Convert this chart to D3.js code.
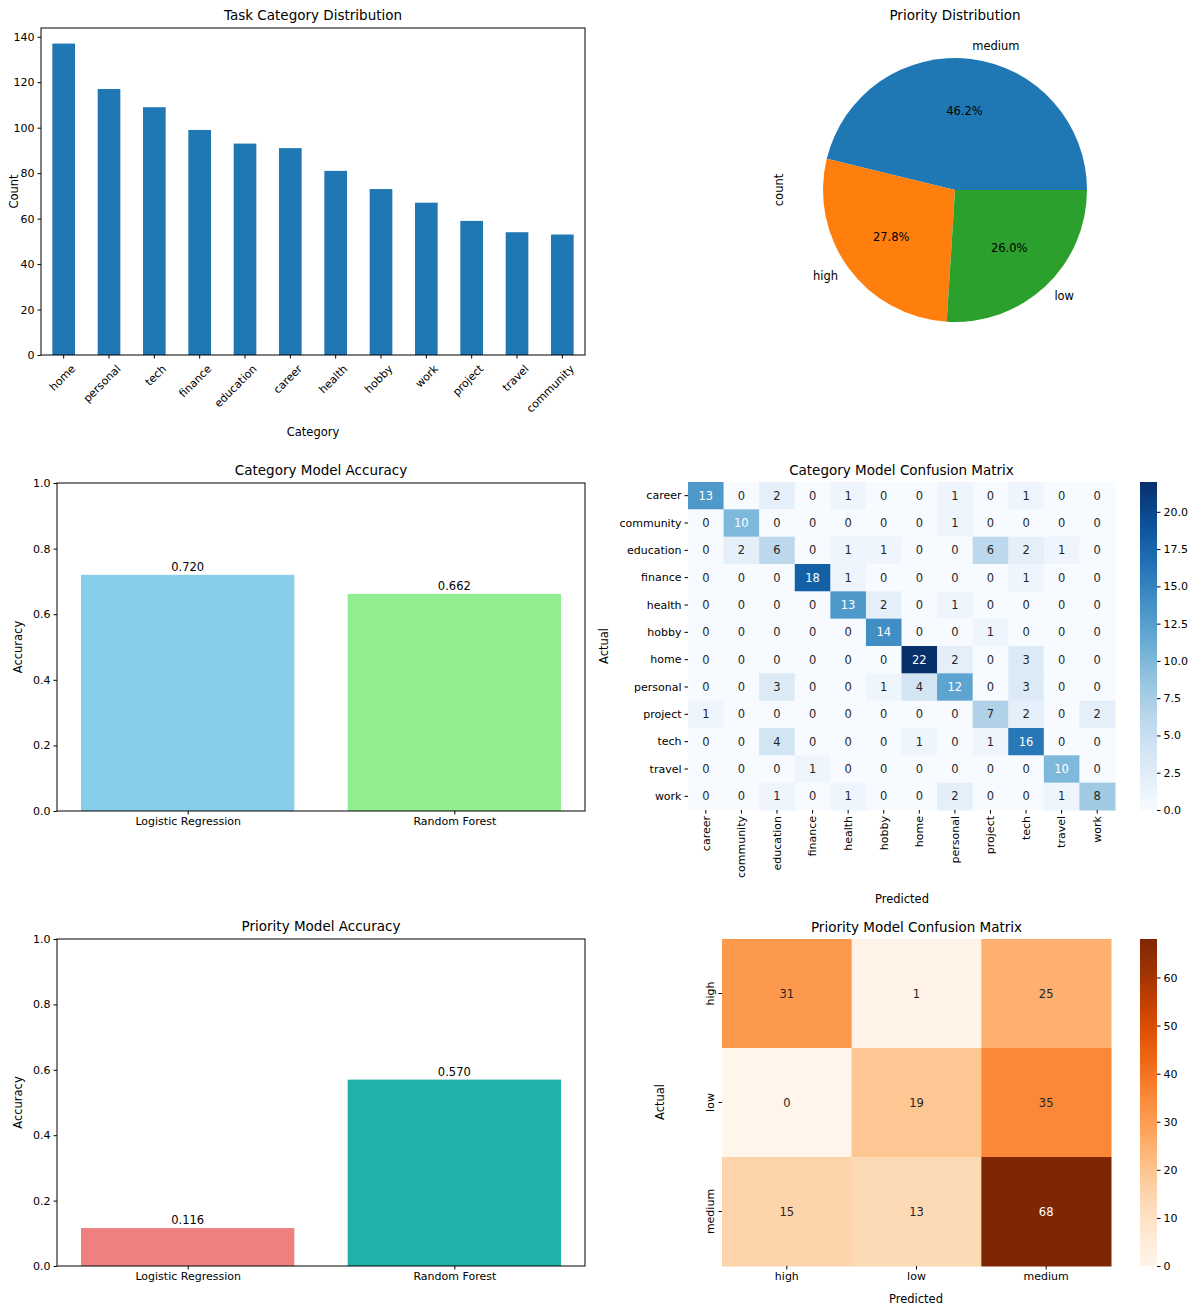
<!DOCTYPE html><html><head><meta charset="utf-8">
<script src="https://cdn.jsdelivr.net/npm/d3@7"></script>
<style>body{margin:0;background:#fff}text{font-family:"DejaVu Sans",sans-serif;fill:#000}</style></head><body>
<svg id="c" width="1200" height="1314"></svg>
<script>
const catNames=["home","personal","tech","finance","education","career","health","hobby","work","project","travel","community"];
const catCounts=[137,117,109,99,93,91,81,73,67,59,54,53];
const prioNames=["medium","high","low"];
const prioPcts=[46.2,27.8,26.0];
const prioColors=["#1f77b4","#ff7f0e","#2ca02c"];
const models=["Logistic Regression","Random Forest"];
const catAcc=[0.720,0.662];
const prioAcc=[0.116,0.570];
const cmLabels=["career","community","education","finance","health","hobby","home","personal","project","tech","travel","work"];
const cmCat=[
[13,0,2,0,1,0,0,1,0,1,0,0],
[0,10,0,0,0,0,0,1,0,0,0,0],
[0,2,6,0,1,1,0,0,6,2,1,0],
[0,0,0,18,1,0,0,0,0,1,0,0],
[0,0,0,0,13,2,0,1,0,0,0,0],
[0,0,0,0,0,14,0,0,1,0,0,0],
[0,0,0,0,0,0,22,2,0,3,0,0],
[0,0,3,0,0,1,4,12,0,3,0,0],
[1,0,0,0,0,0,0,0,7,2,0,2],
[0,0,4,0,0,0,1,0,1,16,0,0],
[0,0,0,1,0,0,0,0,0,0,10,0],
[0,0,1,0,1,0,0,2,0,0,1,8]];
const prioLabels=["high","low","medium"];
const cmPrio=[[31,1,25],[0,19,35],[15,13,68]];

const svg=d3.select("#c");
function title(x,y,t){svg.append("text").attr("x",x).attr("y",y).attr("text-anchor","middle").attr("font-size",13.5).text(t);}
function frame(x0,y0,x1,y1){svg.append("rect").attr("x",x0).attr("y",y0).attr("width",x1-x0).attr("height",y1-y0).attr("fill","none").attr("stroke","#000").attr("stroke-width",1);}
function styleAxis(g){g.selectAll("text").attr("font-size",11);g.select(".domain").remove();g.selectAll("line").attr("stroke","#000");}
function ylab(x,y,t){svg.append("text").attr("transform",`translate(${x},${y}) rotate(-90)`).attr("text-anchor","middle").attr("font-size",11.5).text(t);}

// Panel 1
{const x0=41,x1=585,y0=28,y1=355;
const x=d3.scaleBand().domain(catNames).range([x0,x1]).paddingInner(0.5).paddingOuter(0.25);
const y=d3.scaleLinear().domain([0,143.85]).range([y1,y0]);
svg.selectAll(".b1").data(catNames).join("rect").attr("x",d=>x(d)).attr("width",x.bandwidth()).attr("y",(d,i)=>y(catCounts[i])).attr("height",(d,i)=>y1-y(catCounts[i])).attr("fill","#1f77b4");
const gy=svg.append("g").attr("transform",`translate(${x0},0)`).call(d3.axisLeft(y).tickValues(d3.range(0,141,20)).tickSize(3.5).tickPadding(3));styleAxis(gy);
const gx=svg.append("g").attr("transform",`translate(0,${y1})`).call(d3.axisBottom(x).tickSize(3.5));styleAxis(gx);
gx.selectAll("text").attr("text-anchor","end").attr("transform","translate(4,6) rotate(-45)").attr("dy","0.5em");
frame(x0,y0,x1,y1);title((x0+x1)/2,20,"Task Category Distribution");ylab(18,(y0+y1)/2,"Count");
svg.append("text").attr("x",(x0+x1)/2).attr("y",436).attr("text-anchor","middle").attr("font-size",11.5).text("Category");}

// Panel 2 pie
{const cx=955,cy=190,r=132;
const g=svg.append("g").attr("transform",`translate(${cx},${cy})`);
let a=0;const tot=d3.sum(prioPcts);
prioPcts.forEach((p,i)=>{const s=a,e=a+p/tot*2*Math.PI;a=e;
 // matplotlib: counterclockwise from 3 o'clock. d3 arc angle: clockwise from 12. convert
 const arc=d3.arc().innerRadius(0).outerRadius(r).startAngle(Math.PI/2-e).endAngle(Math.PI/2-s);
 g.append("path").attr("d",arc()).attr("fill",prioColors[i]);
 const m=(s+e)/2;
 g.append("text").attr("x",0.6*r*Math.cos(m)).attr("y",-0.6*r*Math.sin(m)+4).attr("text-anchor","middle").attr("font-size",11.5).text(p.toFixed(1)+"%");
 const lx=1.1*r*Math.cos(m),ly=-1.1*r*Math.sin(m);
 g.append("text").attr("x",lx).attr("y",ly+4).attr("text-anchor",lx>0?"start":"end").attr("font-size",11.5).text(prioNames[i]);});
title(cx,20,"Priority Distribution");ylab(783,cy,"count");}

// Accuracy panels
function accPanel(y0,y1,vals,cols,t){const x0=57,x1=585;
const x=d3.scaleLinear().domain([-0.49,1.49]).range([x0,x1]);
const y=d3.scaleLinear().domain([0,1]).range([y1,y0]);
vals.forEach((v,i)=>{svg.append("rect").attr("x",x(i-0.4)).attr("width",x(0.4)-x(-0.4)).attr("y",y(v)).attr("height",y1-y(v)).attr("fill",cols[i]);
 svg.append("text").attr("x",x(i)).attr("y",y(v)-4).attr("text-anchor","middle").attr("font-size",11.5).text(v.toFixed(3));});
const gy=svg.append("g").attr("transform",`translate(${x0},0)`).call(d3.axisLeft(y).tickValues(d3.range(0,1.01,0.2)).tickFormat(d3.format(".1f")).tickSize(3.5).tickPadding(3));styleAxis(gy);
const gx=svg.append("g").attr("transform",`translate(0,${y1})`).call(d3.axisBottom(x).tickValues([0,1]).tickFormat(i=>models[i]).tickSize(3.5));styleAxis(gx);
frame(x0,y0,x1,y1);title((x0+x1)/2,y0-8,t);ylab(22,(y0+y1)/2,"Accuracy");}
accPanel(483,811,catAcc,["#87CEEB","#90EE90"],"Category Model Accuracy");
accPanel(939,1266,prioAcc,["#F08080","#20B2AA"],"Priority Model Accuracy");

// Heatmaps
function heat(x0,x1,y0,y1,labels,m,interp,vmax,ticks,tfmt,thr,rotY,rotX,t){
const n=labels.length;
const x=d3.scaleBand().domain(d3.range(n)).range([x0,x1]);
const y=d3.scaleBand().domain(d3.range(n)).range([y0,y1]);
const c=d3.scaleSequential(interp).domain([0,vmax]);
m.forEach((row,i)=>row.forEach((v,j)=>{
 svg.append("rect").attr("x",x(j)).attr("y",y(i)).attr("width",x.bandwidth()+0.5).attr("height",y.bandwidth()+0.5).attr("fill",c(v));
 svg.append("text").attr("x",x(j)+x.bandwidth()/2).attr("y",y(i)+y.bandwidth()/2+4).attr("text-anchor","middle").attr("font-size",11.5).style("fill",v/vmax>thr?"#fff":"#262626").text(v);}));
const gy=svg.append("g").attr("transform",`translate(${x0},0)`).call(d3.axisLeft(y).tickFormat(i=>labels[i]).tickSize(3.5));styleAxis(gy);
if(rotY)gy.selectAll("text").attr("text-anchor","middle").attr("transform","rotate(-90) translate(0,-8)").attr("x",0).attr("dy",0);
const gx=svg.append("g").attr("transform",`translate(0,${y1})`).call(d3.axisBottom(x).tickFormat(i=>labels[i]).tickSize(3.5));styleAxis(gx);
if(rotX)gx.selectAll("text").attr("text-anchor","end").attr("transform","rotate(-90)").attr("x",-6).attr("y",0).attr("dy","0.35em");
// colorbar
const cb0=1140,cb1=1157;
const gid="g"+x0+y0;
const grad=svg.append("defs").append("linearGradient").attr("id",gid).attr("x1",0).attr("y1",1).attr("x2",0).attr("y2",0);
d3.range(0,1.001,0.05).forEach(s=>grad.append("stop").attr("offset",s).attr("stop-color",c(s*vmax)));
svg.append("rect").attr("x",cb0).attr("y",y0).attr("width",cb1-cb0).attr("height",y1-y0).attr("fill",`url(#${gid})`);
const cy=d3.scaleLinear().domain([0,vmax]).range([y1,y0]);
const gc=svg.append("g").attr("transform",`translate(${cb1},0)`).call(d3.axisRight(cy).tickValues(ticks).tickFormat(tfmt).tickSize(3.5));styleAxis(gc);
title((x0+x1)/2,y0-7,t);
return {x0,x1,y0,y1};}
const h1=heat(688,1115,482,810,cmLabels,cmCat,d3.interpolateBlues,22,d3.range(0,20.1,2.5),d3.format(".1f"),0.44,false,true,"Category Model Confusion Matrix");
ylab(608,646,"Actual");
svg.append("text").attr("x",902).attr("y",903).attr("text-anchor","middle").attr("font-size",11.5).text("Predicted");
const h2=heat(722,1111,939,1266,prioLabels,cmPrio,d3.interpolateOranges,68,d3.range(0,61,10),d3.format("d"),0.6,true,false,"Priority Model Confusion Matrix");
ylab(664,1102,"Actual");
svg.append("text").attr("x",916).attr("y",1303).attr("text-anchor","middle").attr("font-size",11.5).text("Predicted");
</script></body></html>
